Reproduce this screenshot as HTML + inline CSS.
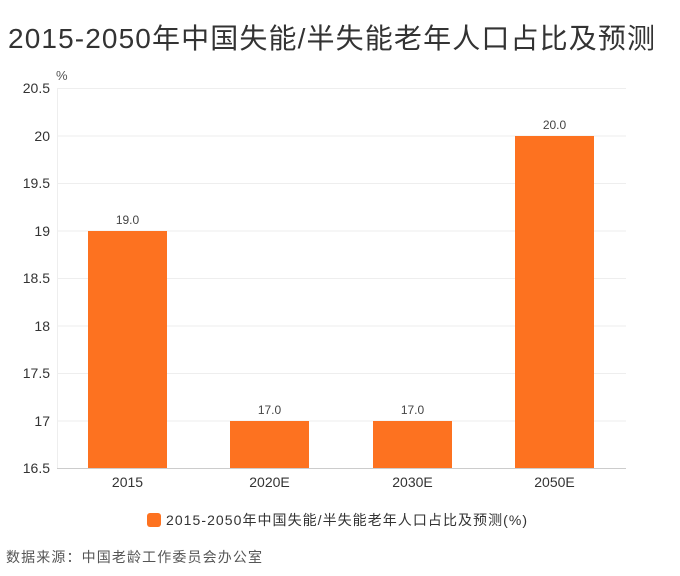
<!DOCTYPE html>
<html><head><meta charset="utf-8"><style>
body{margin:0;background:#fff;}
svg{display:block;font-family:"Liberation Sans","Noto Sans CJK SC",sans-serif;}
</style></head><body>
<svg width="680" height="576" viewBox="0 0 680 576">
<text x="8" y="48" font-size="28" fill="#333" textLength="647" lengthAdjust="spacing">2015-2050年中国失能/半失能老年人口占比及预测</text>
<g stroke="#eee" stroke-width="1">
<line x1="57" y1="88.5" x2="626" y2="88.5"/>
<line x1="57" y1="136" x2="626" y2="136"/>
<line x1="57" y1="183.5" x2="626" y2="183.5"/>
<line x1="57" y1="231" x2="626" y2="231"/>
<line x1="57" y1="278.5" x2="626" y2="278.5"/>
<line x1="57" y1="326" x2="626" y2="326"/>
<line x1="57" y1="373.5" x2="626" y2="373.5"/>
<line x1="57" y1="421" x2="626" y2="421"/>
<line x1="57.5" y1="88" x2="57.5" y2="468"/>
</g>
<line x1="57" y1="468.5" x2="626" y2="468.5" stroke="#ccc"/>
<g font-size="14" fill="#333" text-anchor="end">
<text x="50" y="93">20.5</text><text x="50" y="141">20</text><text x="50" y="188">19.5</text>
<text x="50" y="236">19</text><text x="50" y="283">18.5</text><text x="50" y="331">18</text>
<text x="50" y="378">17.5</text><text x="50" y="426">17</text><text x="50" y="473">16.5</text>
</g>
<text x="56" y="80" font-size="13" fill="#555">%</text>
<g fill="#fd7220">
<rect x="88" y="231" width="79" height="237"/>
<rect x="230" y="421" width="79" height="47"/>
<rect x="373" y="421" width="79" height="47"/>
<rect x="515" y="136" width="79" height="332"/>
</g>
<g font-size="12" fill="#444" text-anchor="middle">
<text x="127.5" y="224">19.0</text><text x="269.5" y="414">17.0</text>
<text x="412.5" y="414">17.0</text><text x="554.5" y="129">20.0</text>
</g>
<g font-size="14" fill="#333" text-anchor="middle">
<text x="127.5" y="487">2015</text><text x="269.5" y="487">2020E</text>
<text x="412.5" y="487">2030E</text><text x="554.5" y="487">2050E</text>
</g>
<rect x="147" y="513" width="14" height="14" rx="3" fill="#fd7220"/>
<text x="166" y="525" font-size="14" fill="#333" textLength="361" lengthAdjust="spacing">2015-2050年中国失能/半失能老年人口占比及预测(%)</text>
<text x="6" y="562" font-size="14" fill="#555" textLength="256" lengthAdjust="spacing">数据来源：中国老龄工作委员会办公室</text>
</svg>
</body></html>
